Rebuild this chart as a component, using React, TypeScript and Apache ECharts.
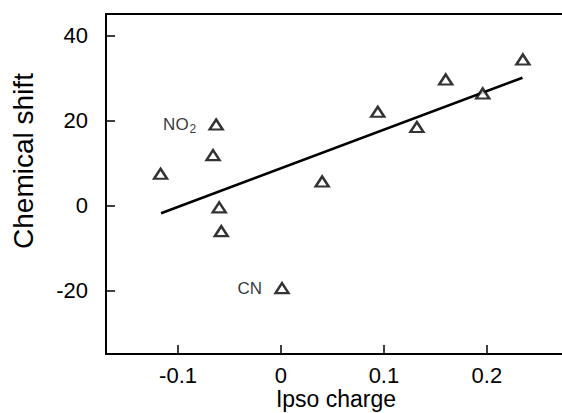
import React, { useEffect, useRef } from "react";
import * as echarts from "echarts";

const chargeX = [-0.117, -0.066, -0.063, -0.06, -0.058, 0.001, 0.04, 0.094, 0.132, 0.16, 0.196, 0.235];
const shiftY = [7.4, 11.8, 19.0, -0.5, -6.1, -19.5, 5.6, 22.0, 18.4, 29.6, 26.3, 34.3];
const pointLabels = ["", "", "NO{sub|2}", "", "", "CN", "", "", "", "", "", ""];
const fitX = [-0.1165, 0.2346];
const fitY = [-1.9, 30.0];
const xTicks = [-0.1, 0, 0.1, 0.2];
const yTicks = [-20, 0, 20, 40];
const xTitle = "Ipso charge";
const yTitle = "Chemical shift";

const FONT = "'Liberation Sans', Arial, Helvetica, sans-serif";

export default function App() {
  const ref = useRef<HTMLDivElement>(null);
  useEffect(() => {
    if (!ref.current) return;
    const chart = echarts.init(ref.current, undefined, { renderer: "svg" });
    const scatterData = chargeX.map((x, i) => {
      const item: any = { value: [x, shiftY[i]] };
      if (pointLabels[i]) {
        item.label = {
          show: true,
          position: "left",
          distance: 12,
          formatter: pointLabels[i],
          color: "#000",
          fontSize: 17,
          fontFamily: FONT,
          rich: {
            sub: { fontSize: 12, verticalAlign: "bottom", padding: [8, 0, 0, 1], color: "#000", fontFamily: FONT },
          },
        };
      }
      return item;
    });
    const axisLine = { show: true, onZero: false, lineStyle: { color: "#000", width: 2 } };
    chart.setOption({
      animation: false,
      backgroundColor: "#fff",
      grid: { left: 106, top: 14, right: 0, bottom: 59, containLabel: false, outerBoundsMode: "none" },
      graphic: [
        {
          type: "text",
          x: 23,
          y: 161,
          rotation: Math.PI / 2,
          style: {
            text: yTitle,
            align: "center",
            verticalAlign: "middle",
            fontSize: 28,
            fontFamily: FONT,
            fill: "#000",
          },
        },
        {
          type: "text",
          x: 336,
          y: 399,
          style: {
            text: xTitle,
            align: "center",
            verticalAlign: "middle",
            fontSize: 23,
            fontFamily: FONT,
            fill: "#000",
          },
        },
      ],
      xAxis: [
        {
          type: "value",
          min: -0.17,
          max: 0.273,
          axisLine,
          axisTick: { show: true, inside: true, length: 9, customValues: xTicks, lineStyle: { color: "#000", width: 1.5 } },
          axisLabel: {
            customValues: xTicks,
            margin: 10,
            fontSize: 22,
            color: "#000",
            fontFamily: FONT,
            formatter: (v: number) => (Math.abs(v) < 1e-9 ? "0" : String(+v.toFixed(2))),
          },
          splitLine: { show: false },
        },
        {
          type: "value",
          position: "top",
          min: -0.17,
          max: 0.273,
          axisLine,
          axisTick: { show: false },
          axisLabel: { show: false },
          splitLine: { show: false },
        },
      ],
      yAxis: {
        type: "value",
        min: -35,
        max: 45,
        axisLine,
        axisTick: { show: true, inside: true, length: 9, customValues: yTicks, lineStyle: { color: "#000", width: 1.5 } },
        axisLabel: { customValues: yTicks, margin: 18, fontSize: 22, color: "#000", fontFamily: FONT },
        splitLine: { show: false },
      },
      series: [
        {
          type: "line",
          data: fitX.map((x, i) => [x, fitY[i]]),
          showSymbol: false,
          symbol: "none",
          lineStyle: { color: "#000", width: 2.6 },
          z: 2,
        },
        {
          type: "scatter",
          data: scatterData,
          symbol: "triangle",
          symbolSize: [13, 10],
          itemStyle: { color: "#fff", borderColor: "#000", borderWidth: 2.4 },
          z: 3,
        },
      ],
    });
    return () => chart.dispose();
  }, []);
  return <div ref={ref} style={{ position: "fixed", left: 0, top: 0, width: 562, height: 413 }} />;
}
